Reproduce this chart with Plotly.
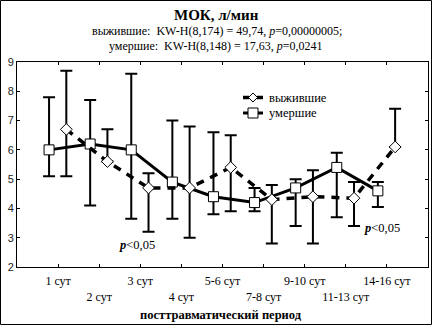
import plotly.graph_objects as go

categories = ["1 сут", "2 сут", "3 сут", "4 сут", "5-6 сут", "7-8 сут", "9-10 сут", "11-13 сут", "14-16 сут"]
x_idx = list(range(len(categories)))

surv_mean = [6.7, 5.6, 4.7, 4.7, 5.4, 4.3, 4.4, 4.35, 6.1]
surv_upper = [8.7, 6.7, 5.2, 6.8, 6.5, 4.8, 5.3, 4.9, 7.4]
surv_lower = [5.1, 5.6, 3.2, 3.0, 3.9, 2.8, 2.8, 3.4, 6.1]

dead_mean = [6.0, 6.2, 6.0, 4.9, 4.4, 4.2, 4.7, 5.4, 4.6]
dead_upper = [7.8, 7.7, 8.6, 7.0, 6.6, 4.7, 5.0, 5.9, 4.9]
dead_lower = [5.1, 4.1, 3.65, 3.65, 3.8, 3.9, 3.4, 3.7, 4.05]

yticks = [2, 3, 4, 5, 6, 7, 8, 9]
legend_names = ["выжившие", "умершие"]

SERIF = "Liberation Serif, Times New Roman, serif"
SANS = "Liberation Sans, Arial, sans-serif"

tick_text = [c if i % 2 == 0 else " <br>" + c for i, c in enumerate(categories)]

fig = go.Figure()

fig.add_trace(go.Scatter(
    x=[i - 0.22 for i in x_idx], y=dead_mean, name=legend_names[1],
    mode="lines+markers", showlegend=False,
    line=dict(color="black", width=3),
    marker=dict(symbol="square", size=10, color="white", line=dict(color="black", width=1)),
    error_y=dict(type="data", symmetric=False,
                 array=[u - m for u, m in zip(dead_upper, dead_mean)],
                 arrayminus=[m - l for m, l in zip(dead_mean, dead_lower)],
                 color="black", thickness=2, width=6),
))

fig.add_trace(go.Scatter(
    x=[i + 0.2 for i in x_idx], y=surv_mean, name=legend_names[0],
    mode="lines+markers", showlegend=False,
    line=dict(color="black", width=3.5, dash="8px,7px"),
    marker=dict(symbol="diamond", size=9, color="white", line=dict(color="black", width=1)),
    error_y=dict(type="data", symmetric=False,
                 array=[u - m for u, m in zip(surv_upper, surv_mean)],
                 arrayminus=[m - l for m, l in zip(surv_mean, surv_lower)],
                 color="black", thickness=2, width=6),
))

W, H = 432, 325
L, R, T, B = 17, 4, 62, 58
pw, ph = W - L - R, H - T - B

def px(xp):
    return (xp - L) / pw

def py(yp):
    return (H - B - yp) / ph

annotations = [
    dict(text="<b>МОК, л/мин</b>", x=px(216), y=py(15), font=dict(size=15)),
    dict(text="выжившие:  KW-H(8,174) = 49,74, <i>p</i>=0,00000005;", x=px(217), y=py(31), font=dict(size=12)),
    dict(text="умершие:  KW-H(8,148) = 17,63, <i>p</i>=0,0241", x=px(216), y=py(46), font=dict(size=12)),
    dict(text="<b>посттравматический период</b>", x=px(221), y=py(315), font=dict(size=12.5)),
]
for a in annotations:
    a.update(xref="paper", yref="paper", showarrow=False, xanchor="center", yanchor="middle")
    a["font"].update(family=SERIF, color="black")

for xv, yv in [(1.92, 2.74), (7.88, 3.32)]:
    annotations.append(dict(text="<b><i>p</i></b><0,05", x=xv, y=yv, xref="x", yref="y",
                            showarrow=False, font=dict(family=SERIF, size=12.5, color="black")))

# custom legend (styling only)
shapes = []
leg_rows = [(97.5, "dash"), (113, "solid")]
for name, (ly, style) in zip(legend_names, leg_rows):
    annotations.append(dict(text=name, x=px(267), y=py(ly), xref="paper", yref="paper",
                            xanchor="left", yanchor="middle", showarrow=False,
                            font=dict(family=SERIF, size=12.5, color="black")))
    if style == "dash":
        shapes.append(dict(type="line", xref="paper", yref="paper", x0=px(243), x1=px(249),
                           y0=py(ly), y1=py(ly), line=dict(color="black", width=3.5)))
        shapes.append(dict(type="line", xref="paper", yref="paper", x0=px(257), x1=px(263),
                           y0=py(ly), y1=py(ly), line=dict(color="black", width=3.5)))
        d = 4.5
        path = "M {} {} L {} {} L {} {} L {} {} Z".format(
            px(253), py(ly - d), px(253 + d), py(ly), px(253), py(ly + d), px(253 - d), py(ly))
        shapes.append(dict(type="path", xref="paper", yref="paper", path=path,
                           fillcolor="white", line=dict(color="black", width=1)))
    else:
        shapes.append(dict(type="line", xref="paper", yref="paper", x0=px(243), x1=px(263),
                           y0=py(ly), y1=py(ly), line=dict(color="black", width=3)))
        d = 5
        shapes.append(dict(type="rect", xref="paper", yref="paper", x0=px(253 - d), x1=px(253 + d),
                           y0=py(ly + d), y1=py(ly - d), fillcolor="white",
                           line=dict(color="black", width=1)))

shapes.append(dict(type="rect", xref="paper", yref="paper",
                   x0=px(0.5), x1=px(431.5), y0=py(324.5), y1=py(0.5),
                   line=dict(color="black", width=1)))

fig.update_layout(
    width=W, height=H,
    margin=dict(l=L, r=R, t=T, b=B),
    paper_bgcolor="white", plot_bgcolor="white",
    showlegend=False,
    annotations=annotations,
    shapes=shapes,
    xaxis=dict(range=[-1, 9], tickvals=x_idx, ticktext=tick_text, tickangle=0,
               showgrid=False, zeroline=False,
               showline=True, linecolor="black", linewidth=1, mirror="ticks",
               ticks="inside", ticklen=3, tickcolor="black", ticklabelstandoff=3,
               tickfont=dict(family=SERIF, size=12, color="black")),
    yaxis=dict(range=[2, 9], tickvals=yticks, showgrid=False, zeroline=False,
               showline=True, linecolor="black", linewidth=1, mirror="ticks",
               ticks="inside", ticklen=3, tickcolor="black",
               tickfont=dict(family=SANS, size=11, color="#222")),
)

fig.write_html("out.html")
